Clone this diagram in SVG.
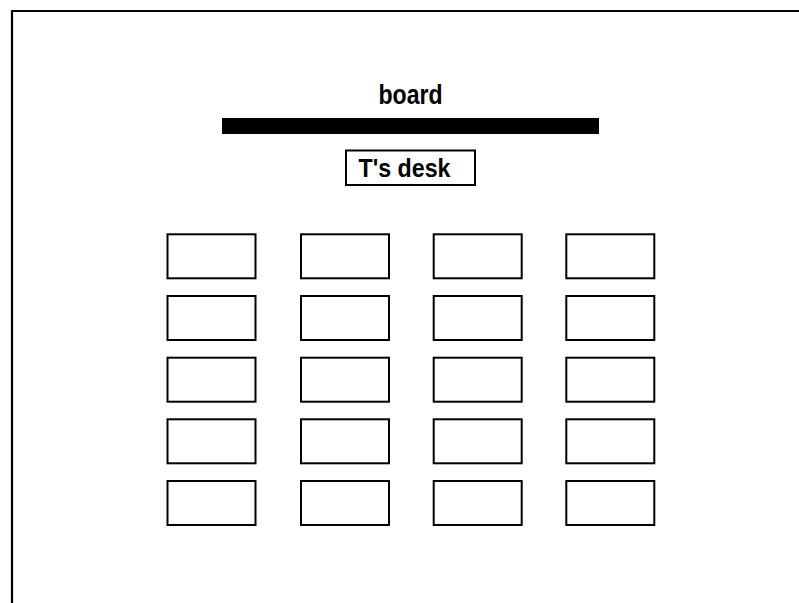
<svg xmlns="http://www.w3.org/2000/svg" width="799" height="603" viewBox="0 0 799 603">
<style>
.frame{stroke:#000;stroke-width:2.2;fill:none}
.desk{fill:#fff;stroke:#000;stroke-width:2}
.lbl{font-family:"Liberation Sans",Arial,sans-serif;font-weight:bold;fill:#000;text-anchor:middle}
</style>
<rect width="799" height="603" fill="#fff"/>
<g id="frame">
<path class="frame" d="M12 603 V11 H799"/>
</g>
<g id="board">
<text class="lbl" x="410.5" y="104" font-size="28" textLength="64" lengthAdjust="spacingAndGlyphs">board</text>
<rect x="222" y="118" width="377" height="16" fill="#000"/>
</g>
<g id="teachers-desk">
<rect class="desk" x="346" y="150.5" width="129" height="34.5"/>
<text class="lbl" x="404.5" y="177.3" font-size="25" textLength="92" lengthAdjust="spacingAndGlyphs">T's desk</text>
</g>
<g id="desks">
<g id="desk-r1c1"><rect class="desk" x="167.5" y="234.3" width="88" height="44"/></g>
<g id="desk-r1c2"><rect class="desk" x="301" y="234.3" width="88" height="44"/></g>
<g id="desk-r1c3"><rect class="desk" x="433.7" y="234.3" width="88" height="44"/></g>
<g id="desk-r1c4"><rect class="desk" x="566.3" y="234.3" width="88" height="44"/></g>
<g id="desk-r2c1"><rect class="desk" x="167.5" y="296" width="88" height="44"/></g>
<g id="desk-r2c2"><rect class="desk" x="301" y="296" width="88" height="44"/></g>
<g id="desk-r2c3"><rect class="desk" x="433.7" y="296" width="88" height="44"/></g>
<g id="desk-r2c4"><rect class="desk" x="566.3" y="296" width="88" height="44"/></g>
<g id="desk-r3c1"><rect class="desk" x="167.5" y="357.7" width="88" height="44"/></g>
<g id="desk-r3c2"><rect class="desk" x="301" y="357.7" width="88" height="44"/></g>
<g id="desk-r3c3"><rect class="desk" x="433.7" y="357.7" width="88" height="44"/></g>
<g id="desk-r3c4"><rect class="desk" x="566.3" y="357.7" width="88" height="44"/></g>
<g id="desk-r4c1"><rect class="desk" x="167.5" y="419.3" width="88" height="44"/></g>
<g id="desk-r4c2"><rect class="desk" x="301" y="419.3" width="88" height="44"/></g>
<g id="desk-r4c3"><rect class="desk" x="433.7" y="419.3" width="88" height="44"/></g>
<g id="desk-r4c4"><rect class="desk" x="566.3" y="419.3" width="88" height="44"/></g>
<g id="desk-r5c1"><rect class="desk" x="167.5" y="481" width="88" height="44"/></g>
<g id="desk-r5c2"><rect class="desk" x="301" y="481" width="88" height="44"/></g>
<g id="desk-r5c3"><rect class="desk" x="433.7" y="481" width="88" height="44"/></g>
<g id="desk-r5c4"><rect class="desk" x="566.3" y="481" width="88" height="44"/></g>
</g>
<g id="connectors"/>
</svg>
